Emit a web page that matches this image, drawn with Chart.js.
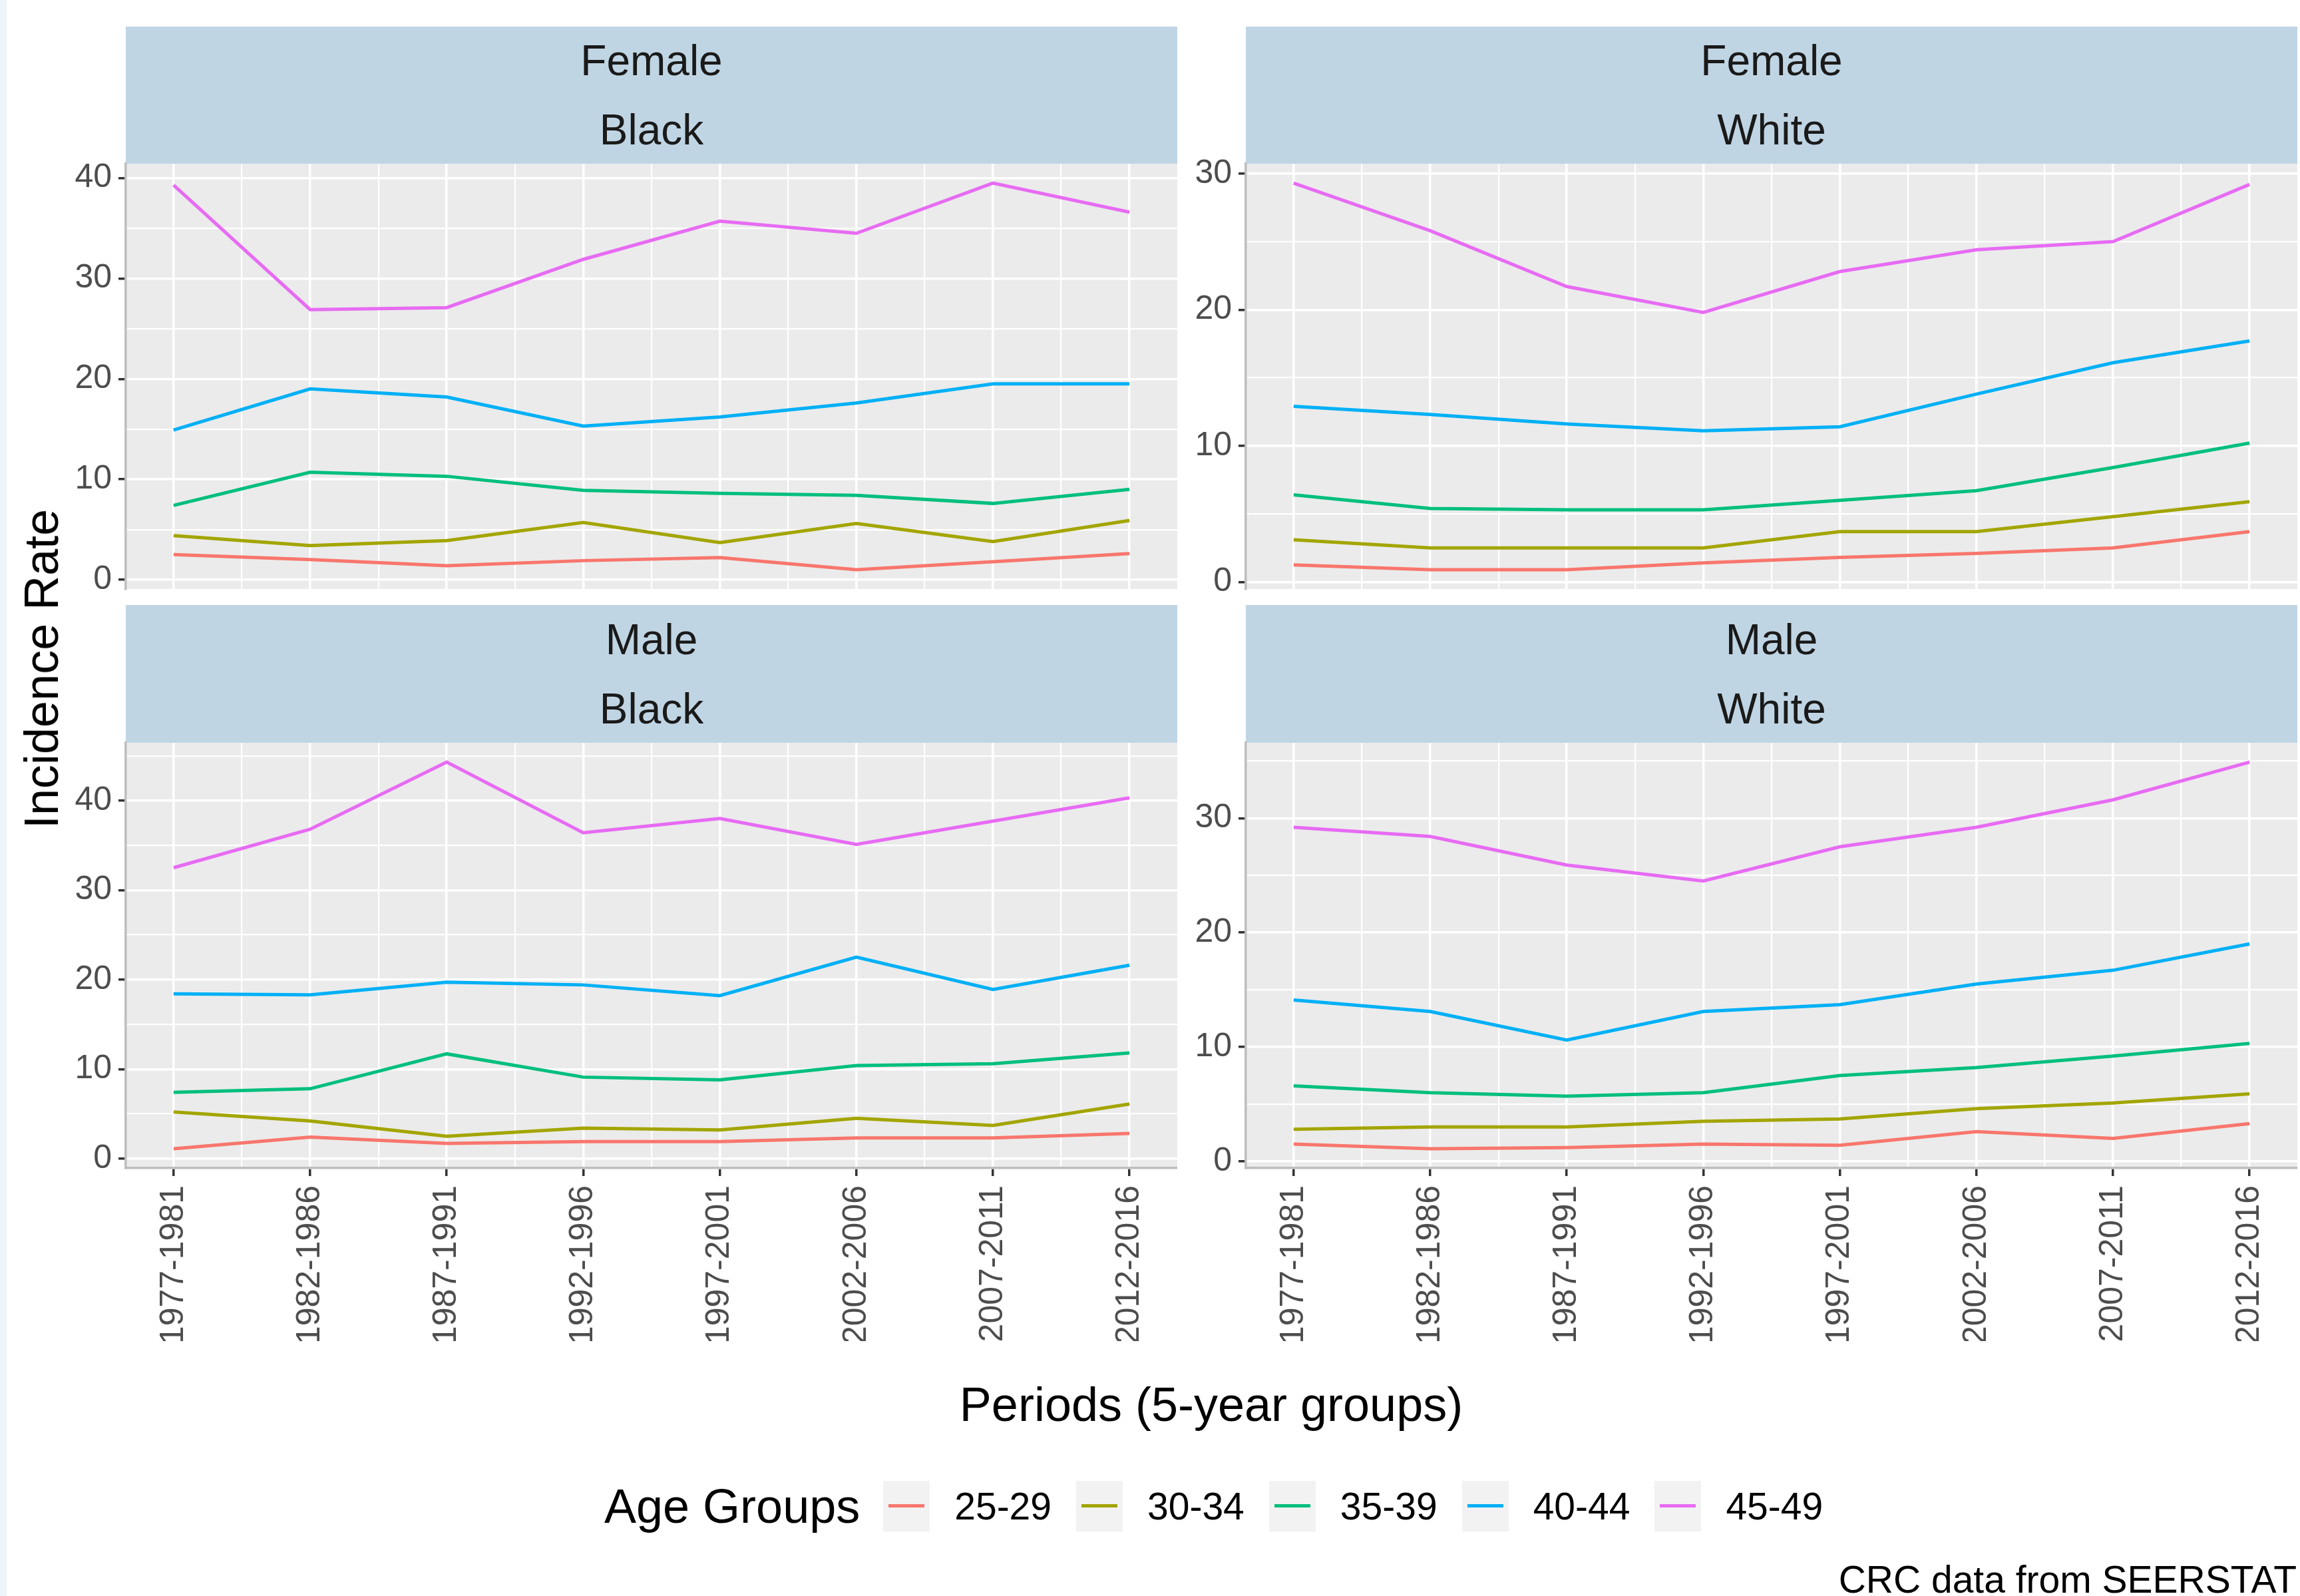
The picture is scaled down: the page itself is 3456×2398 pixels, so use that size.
<!DOCTYPE html>
<html>
<head>
<meta charset="utf-8">
<script src="https://cdn.jsdelivr.net/npm/chart.js@4.4.1/dist/chart.umd.min.js"></script>
<style>
  html, body { margin: 0; padding: 0; background: #fff; }
  body { width: 3456px; height: 2398px; position: relative; overflow: hidden;
         font-family: "Liberation Sans", Arial, sans-serif; }
  .edge { position: absolute; left: 0; top: 0; width: 10px; height: 2398px; background: #EEF4F9; }
  .strip { position: absolute; background: #C0D5E4; color: #1A1A1A; font-size: 64px;
           display: flex; flex-direction: column; justify-content: center; text-align: center; }
  .strip div { line-height: 104px; }
  canvas { position: absolute; }
  .title { position: absolute; color: #000; font-size: 72px; line-height: 72px; white-space: nowrap; }
  #legend { position: absolute; left: 908px; top: 2225px; height: 76px; display: flex; align-items: center; }
  #legend .lt { font-size: 72px; margin-right: 35px; }
  #legend .key { width: 70px; height: 76px; background: #F2F2F2; position: relative; }
  #legend .key span { position: absolute; left: 8px; right: 8px; top: 35px; height: 5px; }
  #legend .lab { font-size: 57px; margin: 0 37px; }
  #caption { position: absolute; right: 5px; top: 2345px; font-size: 57px; line-height: 57px; }
</style>
</head>
<body>
<div class="edge"></div>

<div class="strip" style="left:189px; top:40px; width:1580px; height:206px;"><div>Female</div><div>Black</div></div>
<div class="strip" style="left:1872px; top:40px; width:1580px; height:206px;"><div>Female</div><div>White</div></div>
<div class="strip" style="left:189px; top:909px; width:1580px; height:207px;"><div>Male</div><div>Black</div></div>
<div class="strip" style="left:1872px; top:909px; width:1580px; height:207px;"><div>Male</div><div>White</div></div>

<canvas id="fb"></canvas>
<canvas id="fw"></canvas>
<canvas id="mb"></canvas>
<canvas id="mw"></canvas>

<div class="title" id="ytitle" style="left:62px; top:1005px; transform: translate(-50%, -50%) rotate(-90deg);">Incidence Rate</div>
<div class="title" style="left:1820px; top:2110px; transform: translate(-50%, -50%);">Periods (5-year groups)</div>
<div id="legend"><div class="lt">Age Groups</div></div>
<div id="caption">CRC data from SEERSTAT</div>

<script>
const periods = ["1977-1981", "1982-1986", "1987-1991", "1992-1996",
                 "1997-2001", "2002-2006", "2007-2011", "2012-2016"];
const ageGroups = ["25-29", "30-34", "35-39", "40-44", "45-49"];
const ageColors = ["#F8766D", "#A3A500", "#00BF7D", "#00B0F6", "#E76BF3"];

// one row per age group, in the order of ageGroups
const femaleBlack = [
  [2.5, 2.0, 1.4, 1.9, 2.2, 1.0, 1.8, 2.6],
  [4.4, 3.4, 3.9, 5.7, 3.7, 5.6, 3.8, 5.9],
  [7.4, 10.7, 10.3, 8.9, 8.6, 8.4, 7.6, 9.0],
  [14.9, 19.0, 18.2, 15.3, 16.2, 17.6, 19.5, 19.5],
  [39.3, 26.9, 27.1, 31.9, 35.7, 34.5, 39.5, 36.6]
];
const femaleWhite = [
  [1.25, 0.9, 0.9, 1.4, 1.8, 2.1, 2.5, 3.7],
  [3.1, 2.5, 2.5, 2.5, 3.7, 3.7, 4.8, 5.9],
  [6.4, 5.4, 5.3, 5.3, 6.0, 6.7, 8.4, 10.2],
  [12.9, 12.3, 11.6, 11.1, 11.4, 13.8, 16.1, 17.7],
  [29.3, 25.8, 21.7, 19.8, 22.8, 24.4, 25.0, 29.2]
];
const maleBlack = [
  [1.1, 2.4, 1.7, 1.9, 1.9, 2.3, 2.3, 2.8],
  [5.2, 4.2, 2.5, 3.4, 3.2, 4.5, 3.7, 6.1],
  [7.4, 7.8, 11.7, 9.1, 8.8, 10.4, 10.6, 11.8],
  [18.4, 18.3, 19.7, 19.4, 18.2, 22.5, 18.9, 21.6],
  [32.5, 36.8, 44.3, 36.4, 38.0, 35.1, 37.7, 40.3]
];
const maleWhite = [
  [1.5, 1.1, 1.2, 1.5, 1.4, 2.6, 2.0, 3.3],
  [2.8, 3.0, 3.0, 3.5, 3.7, 4.6, 5.1, 5.9],
  [6.6, 6.0, 5.7, 6.0, 7.5, 8.2, 9.2, 10.3],
  [14.1, 13.1, 10.6, 13.1, 13.7, 15.5, 16.7, 19.0],
  [29.2, 28.4, 25.9, 24.5, 27.5, 29.2, 31.6, 34.9]
];

const FONT = '"Liberation Sans", Arial, sans-serif';
const PLOT_W = 1580, PLOT_H = 639, YAXIS_W = 150, XAXIS_H = 260, EDGE = 30;

// grey panel behind the grid, like ggplot
const panelBg = {
  id: "panelBg",
  beforeDraw(chart) {
    const { ctx, chartArea: a } = chart;
    ctx.save();
    ctx.fillStyle = "#EBEBEB";
    ctx.fillRect(a.left, a.top, a.right - a.left, a.bottom - a.top);
    ctx.restore();
  }
};

function isMajor(v, step) {
  return Math.abs(v / step - Math.round(v / step)) < 1e-6;
}

function makePanel(id, rows, left, top, showX) {
  const all = rows.flat();
  const lo = Math.min(...all), hi = Math.max(...all);
  const pad = (hi - lo) * 0.05;
  const yMin = lo - pad, yMax = hi + pad;

  // canvas leaves a margin above and below so edge tick labels are not cut
  const canvas = document.getElementById(id);
  canvas.width = YAXIS_W + PLOT_W;
  canvas.height = PLOT_H + (showX ? XAXIS_H : 0) + 2 * EDGE;
  canvas.style.left = (left - YAXIS_W) + "px";
  canvas.style.top = (top - EDGE) + "px";

  const datasets = rows.map((vals, i) => ({
    label: ageGroups[i],
    data: vals.map((v, j) => ({ x: j + 1, y: v })),
    borderColor: ageColors[i],
    backgroundColor: ageColors[i],
    borderWidth: 5,
    pointRadius: 0,
    tension: 0,
    order: ageGroups.length - i
  }));

  new Chart(canvas.getContext("2d"), {
    type: "line",
    data: { datasets },
    plugins: [panelBg],
    options: {
      responsive: false,
      animation: false,
      devicePixelRatio: 1,
      layout: { padding: { top: EDGE, bottom: EDGE, left: 0, right: 0 } },
      plugins: { legend: { display: false }, tooltip: { enabled: false } },
      scales: {
        x: {
          type: "linear",
          min: 0.65,
          max: periods.length + 0.35,
          afterBuildTicks(s) {
            s.ticks = [];
            for (let v = 1; v <= periods.length; v += 0.5) s.ticks.push({ value: v });
          },
          afterFit(s) {
            s.height = showX ? XAXIS_H : 0;
            s.paddingLeft = 0; s.paddingRight = 0;
          },
          grid: {
            color: "#FFFFFF",
            lineWidth: (c) => (c.tick && isMajor(c.tick.value, 1) ? 3.5 : 2.2),
            drawTicks: showX,
            tickLength: 12,
            tickWidth: 3.5,
            tickColor: (c) => (c.tick && isMajor(c.tick.value, 1) ? "#333333" : "rgba(0,0,0,0)")
          },
          border: { display: showX, color: "#BEBEBE", width: 3.5 },
          ticks: {
            display: showX,
            autoSkip: false,
            minRotation: 90,
            maxRotation: 90,
            padding: 14,
            color: "#4D4D4D",
            font: { family: FONT, size: 50 },
            callback: (v) => (isMajor(v, 1) ? periods[Math.round(v) - 1] : "")
          }
        },
        y: {
          type: "linear",
          min: yMin,
          max: yMax,
          afterBuildTicks(s) {
            s.ticks = [];
            for (let v = 0; v <= yMax; v += 5) s.ticks.push({ value: v });
          },
          afterFit(s) {
            s.width = YAXIS_W;
            s.paddingTop = 0; s.paddingBottom = 0;
          },
          grid: {
            color: "#FFFFFF",
            lineWidth: (c) => (c.tick && isMajor(c.tick.value, 10) ? 3.5 : 2.2),
            tickLength: 11,
            tickWidth: 3.5,
            tickColor: (c) => (c.tick && isMajor(c.tick.value, 10) ? "#333333" : "rgba(0,0,0,0)")
          },
          border: { display: true, color: "#BEBEBE", width: 3.5 },
          ticks: {
            autoSkip: false,
            padding: 10,
            color: "#4D4D4D",
            font: { family: FONT, size: 50 },
            callback: (v) => (isMajor(v, 10) ? String(Math.round(v)) : "")
          }
        }
      }
    }
  });
}

makePanel("fb", femaleBlack, 189, 246, false);
makePanel("fw", femaleWhite, 1872, 246, false);
makePanel("mb", maleBlack, 189, 1116, true);
makePanel("mw", maleWhite, 1872, 1116, true);

// legend built from the same age groups and colours
const legend = document.getElementById("legend");
ageGroups.forEach((g, i) => {
  const key = document.createElement("div");
  key.className = "key";
  const line = document.createElement("span");
  line.style.background = ageColors[i];
  key.appendChild(line);
  const lab = document.createElement("div");
  lab.className = "lab";
  lab.textContent = g;
  legend.appendChild(key);
  legend.appendChild(lab);
});
</script>
</body>
</html>
